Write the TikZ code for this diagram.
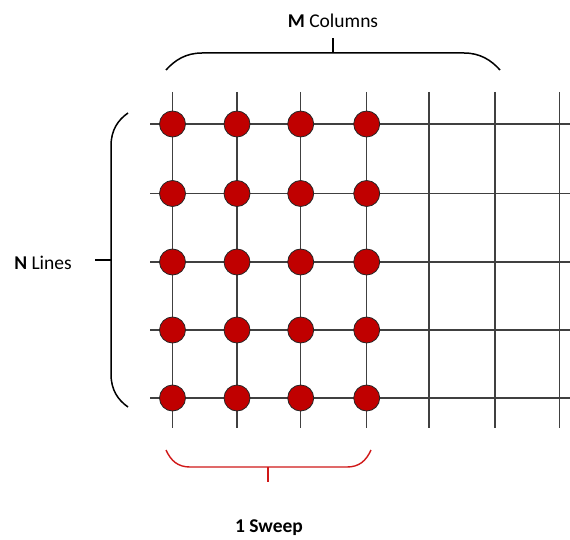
\documentclass[tikz,border=0pt]{standalone}
\usepackage{fontspec}
\setmainfont{Carlito}
\definecolor{dotred}{HTML}{C00000}
\definecolor{bracered}{HTML}{D01818}
\begin{document}
\begin{tikzpicture}[x=1pt,y=-1pt,
  gridline/.style={draw=black!75, line width=1.1pt},
  dot/.style={circle, fill=dotred, draw=black!85, line width=0.8pt, minimum size=26pt, inner sep=0pt},
  bracket/.style={draw=black, line width=1.5pt},
  redbracket/.style={draw=bracered, line width=1.4pt},
  lbl/.style={font=\fontsize{19.5}{22}\selectfont, inner sep=0pt}]
\useasboundingbox (0,0) rectangle (570,540);
% grid
\foreach \y [count=\i] in {124,193.5,262,330,398} {
  \coordinate (hl\i) at (150,\y);
  \coordinate (hr\i) at (570,\y);
  \draw[gridline] (hl\i) -- (hr\i);
}
\foreach \x [count=\j] in {172.5,237,300.7,366.7,429,495,559.3} {
  \coordinate (vt\j) at (\x,92);
  \coordinate (vb\j) at (\x,428);
  \draw[gridline] (vt\j) -- (vb\j);
}
% dots
\foreach \y [count=\i] in {124,193.5,262,330,398} {
  \foreach \x [count=\j] in {172.5,237,300.7,366.7} {
    \node[dot] (c\i\j) at (\x,\y) {};
  }
}
% top brace
\coordinate (tbl) at (166,70);
\coordinate (tbr) at (500,70);
\coordinate (tbm) at (333,53);
\coordinate (tbt) at (333,38);
\draw[bracket] (tbl) .. controls (175,60) and (186,53) .. (202,53) -- (464,53) .. controls (480,53) and (491,60) .. (tbr);
\draw[bracket] (tbm) -- (tbt);
\node[lbl] (mcol) at (333,21) {\textbf{M} Columns};
% left brace
\coordinate (lbt) at (128,113);
\coordinate (lbb) at (128,407);
\coordinate (lbm) at (111,260);
\coordinate (lbp) at (95,260);
\draw[bracket] (lbt) .. controls (118,120) and (111,130) .. (111,146) -- (111,374) .. controls (111,390) and (118,400) .. (lbb);
\draw[bracket] (lbm) -- (lbp);
\node[lbl] (nlines) at (43,263) {\textbf{N} Lines};
% red brace
\coordinate (rbl) at (166,450);
\coordinate (rbr) at (371,450);
\coordinate (rbm) at (268,467);
\coordinate (rbt) at (268,482);
\draw[redbracket] (rbl) .. controls (171,461) and (178,467) .. (190,467) -- (347,467) .. controls (359,467) and (366,461) .. (rbr);
\draw[redbracket] (rbm) -- (rbt);
\node[lbl] (sweep) at (269,528) {\textbf{1 Sweep}};
\end{tikzpicture}
\end{document}
